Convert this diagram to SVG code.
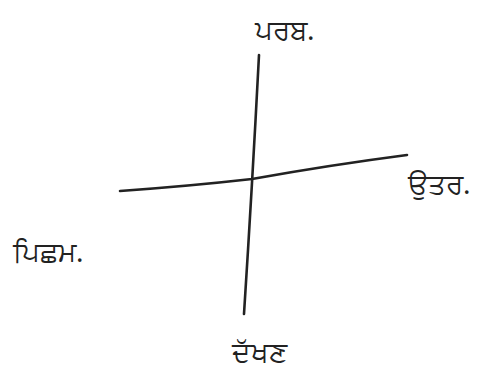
<svg xmlns="http://www.w3.org/2000/svg" width="499" height="371" viewBox="0 0 499 371">
<style>
.ax{fill:none;stroke:#222;stroke-width:2.6;stroke-linecap:round}
.lb{font-family:"Noto Sans","DejaVu Sans",sans-serif;font-size:28px;fill:#222}
</style>
<rect width="499" height="371" fill="#fff"/>
<g id="connectors">
<path class="ax" d="M259,55 Q252,190 244,314"/>
<path class="ax" d="M120,191 Q190,186 252,179 Q330,165 407,155"/>
</g>
<g id="top"><text class="lb" x="255" y="40">ਪਰਬ.</text></g>
<g id="right"><text class="lb" x="408" y="194">ਉਤਰ.</text></g>
<g id="left"><text class="lb" x="13" y="262">ਪਿਛਮ.</text></g>
<g id="bottom"><text class="lb" x="232" y="362">ਦੱਖਣ</text></g>
</svg>
